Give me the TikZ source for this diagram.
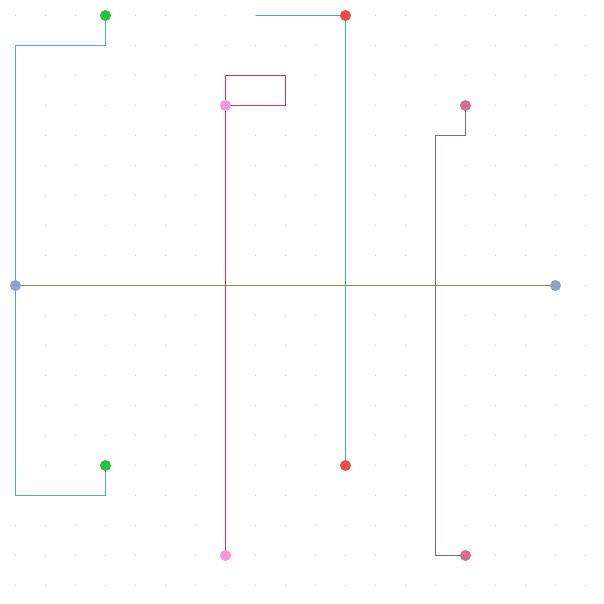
\documentclass[tikz,border=0pt]{standalone}
\begin{document}
\begin{tikzpicture}[x=1pt,y=-1pt,
  dotnode/.style={circle,inner sep=0pt,minimum size=11pt,draw=none},
  wire/.style={line width=0.9pt}]
\definecolor{gdot}{HTML}{CCCCCC}
\definecolor{cgreen}{HTML}{22C53A}
\definecolor{cred}{HTML}{F04A48}
\definecolor{cpink}{HTML}{F895DC}
\definecolor{cmauve}{HTML}{D66E8C}
\definecolor{cblue}{HTML}{8CA2CC}
\definecolor{lcyan}{HTML}{4AB2C8}
\definecolor{lteal}{HTML}{3AB0BC}
\definecolor{lred}{HTML}{D2324C}
\definecolor{lpurple}{HTML}{6A68B8}
\definecolor{lolive}{HTML}{7A9C30}
\useasboundingbox[fill=white] (0,0) rectangle (604,604);
\begin{scope}[shift={(0.5,0.5)}]
\foreach \i in {0,...,19} {
  \foreach \j in {0,...,19} {
    \fill[gdot] ({15+30*\i-0.5},{15+30*\j-0.5}) rectangle ++(1,1);
  }
}
\node[dotnode] (g1) at (105,15) {};
\node[dotnode] (g2) at (105,465) {};
\node[dotnode] (r1) at (345,15) {};
\node[dotnode] (r2) at (345,465) {};
\node[dotnode] (p1) at (225,105) {};
\node[dotnode] (p2) at (225,555) {};
\node[dotnode] (m1) at (465,105) {};
\node[dotnode] (m2) at (465,555) {};
\node[dotnode] (b1) at (15,285) {};
\node[dotnode] (b2) at (555,285) {};
\coordinate (rfree) at (255,15);
% wires
\draw[wire,lolive] (b1.center) -- (b2.center);
\draw[wire,lcyan] (g1.center) -- (105,45) -- (15,45) -- (15,495) -- (105,495) -- (g2.center);
\draw[wire,lteal] (rfree) -- (r1.center) -- (r2.center);
\draw[wire,lred] (p1.center) -- (225,75) -- (285,75) -- (285,105) -- (p1.center) -- (p2.center);
\draw[wire,lpurple] (m1.center) -- (465,135) -- (435,135) -- (435,555) -- (m2.center);
% dots on top
\foreach \n/\c in {g1/cgreen,g2/cgreen,r1/cred,r2/cred,p1/cpink,p2/cpink,m1/cmauve,m2/cmauve,b1/cblue,b2/cblue}
  \fill[\c] (\n) circle (5.5);
\end{scope}
\end{tikzpicture}
\end{document}
